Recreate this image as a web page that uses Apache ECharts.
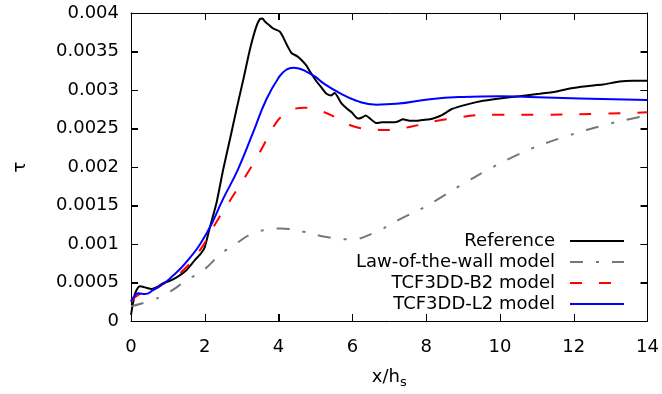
<!DOCTYPE html>
<html>
<head>
<meta charset="utf-8">
<script src="https://cdn.jsdelivr.net/npm/echarts@6/dist/echarts.min.js"></script>
<style>html,body{margin:0;padding:0;background:#fff;}#c{width:662px;height:394px;}</style>
</head>
<body>
<div id="c"></div>
<script>
const xTicks = [0, 2, 4, 6, 8, 10, 12, 14];
const yTicks = [0, 0.0005, 0.001, 0.0015, 0.002, 0.0025, 0.003, 0.0035, 0.004];

const seriesNames = ['Reference', 'Law-of-the-wall model', 'TCF3DD-B2 model', 'TCF3DD-L2 model'];

const refX = [0, 0.05, 0.1, 0.17, 0.24, 0.32, 0.42, 0.56, 0.7, 0.87, 1.05, 1.28, 1.5, 1.73, 1.9, 2.0, 2.14, 2.32, 2.5, 2.7, 2.86, 3.05, 3.22, 3.38, 3.49, 3.56, 3.63, 3.75, 3.85, 4.03, 4.12, 4.22, 4.35, 4.5, 4.62, 4.75, 4.85, 5.03, 5.15, 5.3, 5.42, 5.52, 5.7, 5.85, 5.98, 6.15, 6.25, 6.36, 6.5, 6.65, 6.8, 7.01, 7.15, 7.28, 7.37, 7.55, 7.74, 7.9, 8.1, 8.25, 8.41, 8.55, 8.68, 9.09, 9.54, 9.99, 10.53, 11.07, 11.53, 11.89, 12.34, 12.79, 13.24, 13.6, 14];
const refY = [0.00008, 0.00022, 0.00034, 0.00042, 0.00045, 0.000445, 0.00043, 0.000415, 0.00044, 0.00049, 0.00052, 0.00058, 0.00066, 0.00079, 0.00088, 0.00096, 0.00122, 0.00154, 0.00197, 0.0024, 0.00275, 0.00315, 0.00352, 0.0038, 0.00392, 0.00393, 0.00389, 0.00384, 0.0038, 0.00376, 0.00369, 0.00359, 0.00348, 0.00344, 0.00339, 0.00332, 0.00324, 0.00311, 0.00304, 0.00295, 0.00293, 0.00296, 0.00283, 0.00276, 0.00271, 0.00263, 0.00264, 0.00267, 0.00262, 0.00257, 0.00258, 0.00258, 0.00258, 0.0026, 0.00262, 0.0026, 0.0026, 0.00261, 0.00262, 0.00264, 0.00267, 0.00271, 0.00275, 0.00281, 0.00286, 0.00289, 0.00292, 0.00295, 0.00298, 0.00302, 0.00305, 0.00307, 0.00311, 0.00312, 0.00312];

const lawX = [0, 0.6, 1.05, 1.51, 1.96, 2.41, 2.86, 3.31, 3.76, 4.03, 4.67, 5.3, 5.94, 6.56, 7.24, 8.0, 8.28, 9.0, 9.81, 10.44, 10.8, 11.8, 12.88, 13.69, 14];
const lawY = [0.00019, 0.000275, 0.00038, 0.00053, 0.00066, 0.00086, 0.00101, 0.00114, 0.00119, 0.0012, 0.00116, 0.00109, 0.00106, 0.00114, 0.00131, 0.00149, 0.00157, 0.00178, 0.002, 0.00215, 0.00223, 0.0024, 0.00255, 0.00264, 0.00266];

const b2X = [0, 0.2, 0.4, 0.6, 1.0, 1.33, 1.87, 2.32, 2.77, 3.22, 3.49, 3.94, 4.2, 4.39, 4.71, 5.12, 5.57, 6.02, 6.56, 7.01, 7.64, 8.55, 9.9, 11.26, 12.63, 14];
const b2Y = [0.00025, 0.00034, 0.00036, 0.0004, 0.00052, 0.00062, 0.00092, 0.00129, 0.00163, 0.00197, 0.00219, 0.00258, 0.0027, 0.00275, 0.00277, 0.00273, 0.00264, 0.00253, 0.00249, 0.00248, 0.00253, 0.00262, 0.00268, 0.00268, 0.00269, 0.00271];

const l2X = [0, 0.1, 0.2, 0.38, 0.6, 0.8, 1.05, 1.51, 2.05, 2.5, 2.9, 3.31, 3.67, 4.03, 4.2, 4.39, 4.55, 4.75, 5.0, 5.21, 5.66, 6.11, 6.65, 7.19, 8.1, 9.0, 10.0, 10.8, 12.16, 14];
const l2Y = [0.000254, 0.00033, 0.00036, 0.00035, 0.0004, 0.00046, 0.00055, 0.00077, 0.00114, 0.00159, 0.00197, 0.00245, 0.00288, 0.00318, 0.00326, 0.00329, 0.00328, 0.00324, 0.00317, 0.00309, 0.00296, 0.00286, 0.00281, 0.00282, 0.00288, 0.00291, 0.00292, 0.00291, 0.00289, 0.00287];

const pairs = (xs, ys) => xs.map((x, i) => [x, ys[i]]);

// styles (kept apart from the data)
const seriesColors = ['#000000', '#777777', '#ff0000', '#0000ff'];
const seriesDash = [null, [13, 13, 3, 13], [12, 17], null];
const seriesSmooth = [0.2, true, true, true];

const FONT = 'DejaVu Sans';
const FS = 18;
const TICK_LEN = 7;
const XMIN = xTicks[0], XMAX = xTicks[xTicks.length - 1];
const YMIN = yTicks[0], YMAX = yTicks[yTicks.length - 1];

const chart = echarts.init(document.getElementById('c'));

// legend: right-aligned text with the sample line on its right
const legendRowY = [241, 262, 283, 304];
const legendGraphic = [];
seriesNames.forEach((n, i) => {
  legendGraphic.push({
    type: 'text', x: 555, y: legendRowY[i],
    style: { text: n, fill: '#000', fontSize: FS, fontFamily: FONT, align: 'right', verticalAlign: 'middle' }
  });
  const ls = { stroke: seriesColors[i], lineWidth: 2 };
  if (seriesDash[i]) ls.lineDash = seriesDash[i];
  legendGraphic.push({
    type: 'line', shape: { x1: 570, y1: legendRowY[i], x2: 624, y2: legendRowY[i] }, style: ls
  });
});

const line = { show: true, onZero: false, lineStyle: { color: '#000', width: 1 } };
const tick = { show: true, inside: true, length: TICK_LEN, lineStyle: { color: '#000', width: 1 } };
const tickStyle = { stroke: '#000', lineWidth: 1 };

// inward tick marks on all four sides, placed through the axes' own scales
const xTickSeries = {
  type: 'custom', silent: true, z: 10, clip: false,
  data: xTicks.filter(v => v !== XMIN && v !== XMAX).map(v => [v, YMIN]),
  renderItem: (params, api) => {
    const x = api.value(0);
    const pb = api.coord([x, YMIN]);
    const pt = api.coord([x, YMAX]);
    const px = Math.round(pb[0]) + 0.5;
    return { type: 'group', children: [
      { type: 'line', shape: { x1: px, y1: pb[1], x2: px, y2: pb[1] - TICK_LEN }, style: tickStyle },
      { type: 'line', shape: { x1: px, y1: pt[1], x2: px, y2: pt[1] + TICK_LEN }, style: tickStyle }
    ] };
  }
};
const yTickSeries = {
  type: 'custom', silent: true, z: 10, clip: false,
  data: yTicks.filter(v => v !== YMIN && v !== YMAX).map(v => [XMIN, v]),
  renderItem: (params, api) => {
    const y = api.value(1);
    const pl = api.coord([XMIN, y]);
    const pr = api.coord([XMAX, y]);
    const py = Math.round(pl[1]) + 0.5;
    return { type: 'group', children: [
      { type: 'line', shape: { x1: pl[0], y1: py, x2: pl[0] + TICK_LEN, y2: py }, style: tickStyle },
      { type: 'line', shape: { x1: pr[0], y1: py, x2: pr[0] - TICK_LEN, y2: py }, style: tickStyle }
    ] };
  }
};

chart.setOption({
  animation: false,
  grid: { left: 131, right: 14, top: 13, bottom: 71 },
  graphic: legendGraphic,
  xAxis: [
    { type: 'value', min: XMIN, max: XMAX, interval: 2, position: 'bottom',
      axisLine: line, axisTick: tick, splitLine: { show: false },
      axisLabel: { fontFamily: FONT, fontSize: FS, color: '#000', margin: 17 },
      name: '{a|x/h}{s|s}', nameLocation: 'middle', nameGap: 45,
      nameTextStyle: { rich: { a: { fontFamily: FONT, fontSize: FS, color: '#000' }, s: { fontFamily: FONT, fontSize: 13, color: '#000', padding: [10, 0, 0, 0] } } } },
    { type: 'value', min: XMIN, max: XMAX, interval: 2, position: 'top',
      axisLine: line, axisTick: tick, axisLabel: { show: false }, splitLine: { show: false } }
  ],
  yAxis: [
    { type: 'value', min: YMIN, max: YMAX, interval: 0.0005, position: 'left',
      axisLine: line, axisTick: tick, splitLine: { show: false },
      axisLabel: { fontFamily: FONT, fontSize: FS, color: '#000', margin: 12, formatter: v => String(+v.toFixed(4)) },
      name: 'τ', nameLocation: 'middle', nameGap: 102, nameRotate: 90,
      nameTextStyle: { fontFamily: FONT, fontSize: FS, color: '#000' } },
    { type: 'value', min: YMIN, max: YMAX, interval: 0.0005, position: 'right',
      axisLine: line, axisTick: tick, axisLabel: { show: false }, splitLine: { show: false } }
  ],
  series: [pairs(refX, refY), pairs(lawX, lawY), pairs(b2X, b2Y), pairs(l2X, l2Y)].map((d, i) => ({
    name: seriesNames[i], type: 'line', data: d, showSymbol: false, symbol: 'none', smooth: seriesSmooth[i],
    lineStyle: { color: seriesColors[i], width: 2, type: seriesDash[i] || 'solid' },
    itemStyle: { color: seriesColors[i] }
  })).concat([xTickSeries, yTickSeries])
});
</script>
</body>
</html>
